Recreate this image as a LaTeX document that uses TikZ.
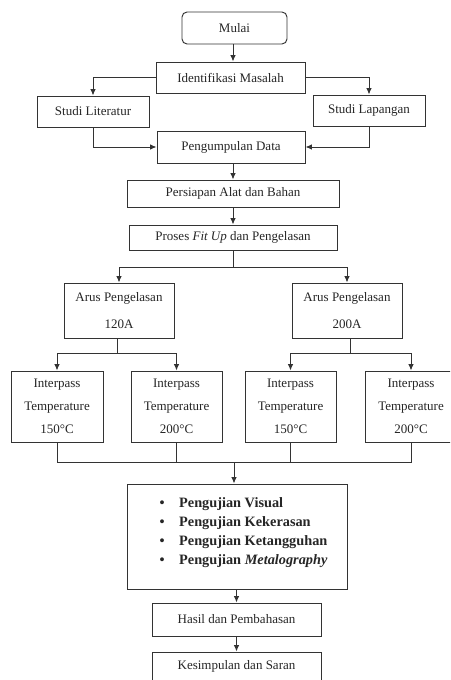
\documentclass[tikz,border=0pt]{standalone}
\usepackage{fontspec}
\setmainfont{Liberation Serif}
\usetikzlibrary{arrows.meta}
\begin{document}
\begin{tikzpicture}[x=1pt,y=-1pt,
  every node/.style={text=black!85},
  box/.style={draw=black!80,line width=0.95pt,inner sep=0pt,minimum width=#1,align=center,font=\fontsize{13}{15}\selectfont},
  box/.default=100pt,
  conn/.style={draw=black!80,line width=0.95pt},
  arr/.style={conn,-{Latex[length=6.5pt,width=5.5pt]}}]
\useasboundingbox (0,0) rectangle (450,680);
\clip (0,0) rectangle (450,680);
\fill[white] (0,0) rectangle (450,680);
% nodes
\node[box=105pt,minimum height=32pt,rounded corners=5pt] (mulai) at (234.5,28) {Mulai};
\node[box=149pt,minimum height=31pt] (ident) at (230.5,77.5) {Identifikasi Masalah};
\node[box=112pt,minimum height=31pt] (lit) at (93,111.5) {Studi Literatur};
\node[box=112pt,minimum height=31pt] (lap) at (369,110.5) {Studi Lapangan};
\node[box=148pt,minimum height=32pt] (data) at (231,147) {Pengumpulan Data};
\node[box=212pt,minimum height=27pt] (persiapan) at (233,193.5) {Persiapan Alat dan Bahan};
\node[box=208pt,minimum height=25pt] (proses) at (233,237.5) {Proses \textit{Fit Up} dan Pengelasan};
\node[box=110pt,minimum height=55pt,font=\fontsize{13}{27}\selectfont] (arus1) at (119,310.5) {Arus Pengelasan\\120A};
\node[box=110pt,minimum height=55pt,font=\fontsize{13}{27}\selectfont] (arus2) at (347,310.5) {Arus Pengelasan\\200A};
\node[box=92pt,minimum height=71pt,font=\fontsize{13}{23}\selectfont] (it1) at (57,406.5) {Interpass\\Temperature\\150°C};
\node[box=91pt,minimum height=71pt,font=\fontsize{13}{23}\selectfont] (it2) at (176.5,406.5) {Interpass\\Temperature\\200°C};
\node[box=91pt,minimum height=71pt,font=\fontsize{13}{23}\selectfont] (it3) at (290.5,406.5) {Interpass\\Temperature\\150°C};
\node[box=92pt,minimum height=71pt,font=\fontsize{13}{23}\selectfont] (it4) at (411,406.5) {Interpass\\Temperature\\200°C};
\node[box=220pt,minimum height=105pt] (uji) at (237,536.5) {};
\node[anchor=west,inner sep=0pt,align=left,font=\fontsize{14.3}{19}\selectfont\bfseries] (ujitext) at (159.5,532.5)
  {\begin{tabular}{@{}l@{\hspace{14.5pt}}l@{}}
   \textbullet & Pengujian Visual\\
   \textbullet & Pengujian Kekerasan\\
   \textbullet & Pengujian Ketangguhan\\
   \textbullet & Pengujian \textit{Metalography}
   \end{tabular}};
\node[box=169pt,minimum height=33pt] (hasil) at (236.5,619.5) {Hasil dan Pembahasan};
\node[box=169pt,minimum height=40pt,text depth=0pt] (kes) at (236.5,672) {};
\node[inner sep=0pt,font=\fontsize{13}{15}\selectfont] (kestext) at (236.5,666) {Kesimpulan dan Saran};
% coordinates
\coordinate (s1) at (233,267);
\coordinate (s2) at (117,353);
\coordinate (s3) at (350,353);
\coordinate (m) at (234,462);
% connectors
\draw[arr] (mulai.south -| 233,0) -- (ident.north -| 233,0);
\draw[arr] (ident.west) -| (lit.north);
\draw[arr] (ident.east) -| (lap.north);
\draw[arr] (lit.south) |- (data.west);
\draw[arr] (lap.south) |- (data.east);
\draw[arr] (data.south -| 233,0) -- (persiapan.north -| 233,0);
\draw[arr] (persiapan.south) -- (proses.north);
\draw[conn] (proses.south) -- (s1);
\draw[arr] (s1) -| (arus1.north);
\draw[arr] (s1) -| (arus2.north);
\draw[conn] (arus1.south -| s2) -- (s2);
\draw[arr] (s2) -| (it1.north);
\draw[arr] (s2) -| (it2.north);
\draw[conn] (arus2.south -| s3) -- (s3);
\draw[arr] (s3) -| (it3.north);
\draw[arr] (s3) -| (it4.north);
\draw[conn] (it1.south) |- (m);
\draw[conn] (it4.south) |- (m);
\draw[conn] (it2.south) -- (it2.south |- m);
\draw[conn] (it3.south) -- (it3.south |- m);
\draw[arr] (m) -- (m |- uji.north);
\draw[arr] (uji.south -| 236.5,0) -- (hasil.north);
\draw[arr] (hasil.south) -- (kes.north);
\end{tikzpicture}
\end{document}
